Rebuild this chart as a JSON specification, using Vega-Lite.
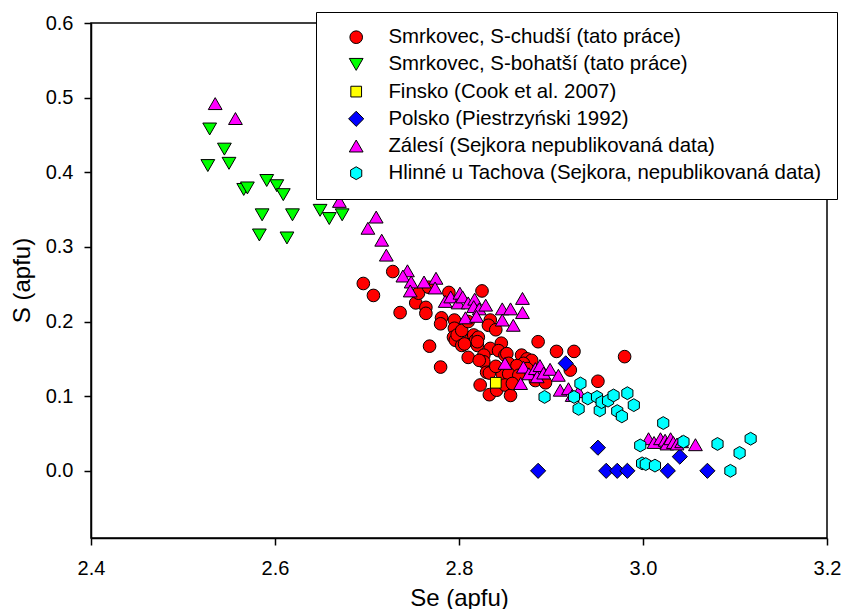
{
  "$schema": "https://vega.github.io/schema/vega-lite/v6.json",
  "width": 736,
  "height": 515,
  "autosize": {"type": "none"},
  "padding": {"left": 91, "top": 23, "right": 16, "bottom": 71},
  "background": "white",
  "config": {
    "font": "Liberation Sans",
    "view": {"stroke": "black", "strokeWidth": 1.5},
    "axis": {
      "grid": false,
      "domainColor": "black",
      "domainWidth": 1.5,
      "tickColor": "black",
      "tickWidth": 1.5,
      "tickSize": 7,
      "labelFont": "Liberation Sans",
      "labelFontSize": 20,
      "labelColor": "black",
      "titleFont": "Liberation Sans",
      "titleFontSize": 24,
      "titleFontWeight": "normal",
      "titleColor": "black"
    },
    "legend": {
      "labelFont": "Liberation Sans",
      "labelFontSize": 20.4,
      "labelColor": "black",
      "labelLimit": 0
    }
  },
  "data": {
    "values": [
      {"series": "Smrkovec, S-chudší (tato práce)", "se": 2.696, "s": 0.251},
      {"series": "Smrkovec, S-chudší (tato práce)", "se": 2.707, "s": 0.235},
      {"series": "Smrkovec, S-chudší (tato práce)", "se": 2.728, "s": 0.267},
      {"series": "Smrkovec, S-chudší (tato práce)", "se": 2.736, "s": 0.212},
      {"series": "Smrkovec, S-chudší (tato práce)", "se": 2.753, "s": 0.225},
      {"series": "Smrkovec, S-chudší (tato práce)", "se": 2.756, "s": 0.238},
      {"series": "Smrkovec, S-chudší (tato práce)", "se": 2.764, "s": 0.219},
      {"series": "Smrkovec, S-chudší (tato práce)", "se": 2.764, "s": 0.211},
      {"series": "Smrkovec, S-chudší (tato práce)", "se": 2.767, "s": 0.246},
      {"series": "Smrkovec, S-chudší (tato práce)", "se": 2.768, "s": 0.167},
      {"series": "Smrkovec, S-chudší (tato práce)", "se": 2.780, "s": 0.139},
      {"series": "Smrkovec, S-chudší (tato práce)", "se": 2.781, "s": 0.205},
      {"series": "Smrkovec, S-chudší (tato práce)", "se": 2.780, "s": 0.197},
      {"series": "Smrkovec, S-chudší (tato práce)", "se": 2.789, "s": 0.239},
      {"series": "Smrkovec, S-chudší (tato práce)", "se": 2.795, "s": 0.202},
      {"series": "Smrkovec, S-chudší (tato práce)", "se": 2.795, "s": 0.191},
      {"series": "Smrkovec, S-chudší (tato práce)", "se": 2.794, "s": 0.179},
      {"series": "Smrkovec, S-chudší (tato práce)", "se": 2.796, "s": 0.175},
      {"series": "Smrkovec, S-chudší (tato práce)", "se": 2.798, "s": 0.182},
      {"series": "Smrkovec, S-chudší (tato práce)", "se": 2.803, "s": 0.188},
      {"series": "Smrkovec, S-chudší (tato práce)", "se": 2.803, "s": 0.168},
      {"series": "Smrkovec, S-chudší (tato práce)", "se": 2.810, "s": 0.200},
      {"series": "Smrkovec, S-chudší (tato práce)", "se": 2.812, "s": 0.175},
      {"series": "Smrkovec, S-chudší (tato práce)", "se": 2.816, "s": 0.182},
      {"series": "Smrkovec, S-chudší (tato práce)", "se": 2.818, "s": 0.175},
      {"series": "Smrkovec, S-chudší (tato práce)", "se": 2.821, "s": 0.179},
      {"series": "Smrkovec, S-chudší (tato práce)", "se": 2.825, "s": 0.241},
      {"series": "Smrkovec, S-chudší (tato práce)", "se": 2.834, "s": 0.202},
      {"series": "Smrkovec, S-chudší (tato práce)", "se": 2.832, "s": 0.195},
      {"series": "Smrkovec, S-chudší (tato práce)", "se": 2.840, "s": 0.189},
      {"series": "Smrkovec, S-chudší (tato práce)", "se": 2.810, "s": 0.152},
      {"series": "Smrkovec, S-chudší (tato práce)", "se": 2.820, "s": 0.168},
      {"series": "Smrkovec, S-chudší (tato práce)", "se": 2.820, "s": 0.173},
      {"series": "Smrkovec, S-chudší (tato práce)", "se": 2.834, "s": 0.164},
      {"series": "Smrkovec, S-chudší (tato práce)", "se": 2.846, "s": 0.171},
      {"series": "Smrkovec, S-chudší (tato práce)", "se": 2.843, "s": 0.161},
      {"series": "Smrkovec, S-chudší (tato práce)", "se": 2.827, "s": 0.155},
      {"series": "Smrkovec, S-chudší (tato práce)", "se": 2.827, "s": 0.146},
      {"series": "Smrkovec, S-chudší (tato práce)", "se": 2.850, "s": 0.155},
      {"series": "Smrkovec, S-chudší (tato práce)", "se": 2.852, "s": 0.157},
      {"series": "Smrkovec, S-chudší (tato práce)", "se": 2.854, "s": 0.144},
      {"series": "Smrkovec, S-chudší (tato práce)", "se": 2.868, "s": 0.155},
      {"series": "Smrkovec, S-chudší (tato práce)", "se": 2.874, "s": 0.150},
      {"series": "Smrkovec, S-chudší (tato práce)", "se": 2.879, "s": 0.148},
      {"series": "Smrkovec, S-chudší (tato práce)", "se": 2.870, "s": 0.144},
      {"series": "Smrkovec, S-chudší (tato práce)", "se": 2.863, "s": 0.141},
      {"series": "Smrkovec, S-chudší (tato práce)", "se": 2.874, "s": 0.137},
      {"series": "Smrkovec, S-chudší (tato práce)", "se": 2.830, "s": 0.132},
      {"series": "Smrkovec, S-chudší (tato práce)", "se": 2.847, "s": 0.130},
      {"series": "Smrkovec, S-chudší (tato práce)", "se": 2.854, "s": 0.130},
      {"series": "Smrkovec, S-chudší (tato práce)", "se": 2.865, "s": 0.128},
      {"series": "Smrkovec, S-chudší (tato práce)", "se": 2.823, "s": 0.115},
      {"series": "Smrkovec, S-chudší (tato práce)", "se": 2.833, "s": 0.102},
      {"series": "Smrkovec, S-chudší (tato práce)", "se": 2.841, "s": 0.108},
      {"series": "Smrkovec, S-chudší (tato práce)", "se": 2.850, "s": 0.115},
      {"series": "Smrkovec, S-chudší (tato práce)", "se": 2.856, "s": 0.101},
      {"series": "Smrkovec, S-chudší (tato práce)", "se": 2.858, "s": 0.117},
      {"series": "Smrkovec, S-chudší (tato práce)", "se": 2.883, "s": 0.121},
      {"series": "Smrkovec, S-chudší (tato práce)", "se": 2.890, "s": 0.126},
      {"series": "Smrkovec, S-chudší (tato práce)", "se": 2.894, "s": 0.118},
      {"series": "Smrkovec, S-chudší (tato práce)", "se": 2.886, "s": 0.173},
      {"series": "Smrkovec, S-chudší (tato práce)", "se": 2.906, "s": 0.160},
      {"series": "Smrkovec, S-chudší (tato práce)", "se": 2.925, "s": 0.160},
      {"series": "Smrkovec, S-chudší (tato práce)", "se": 2.921, "s": 0.135},
      {"series": "Smrkovec, S-chudší (tato práce)", "se": 2.951, "s": 0.120},
      {"series": "Smrkovec, S-chudší (tato práce)", "se": 2.980, "s": 0.153},
      {"series": "Smrkovec, S-chudší (tato práce)", "se": 2.833, "s": 0.131},
      {"series": "Smrkovec, S-chudší (tato práce)", "se": 2.822, "s": 0.148},
      {"series": "Smrkovec, S-chudší (tato práce)", "se": 2.840, "s": 0.140},
      {"series": "Smrkovec, S-chudší (tato práce)", "se": 2.806, "s": 0.170},
      {"series": "Smrkovec, S-bohatší (tato práce)", "se": 2.529, "s": 0.458},
      {"series": "Smrkovec, S-bohatší (tato práce)", "se": 2.545, "s": 0.431},
      {"series": "Smrkovec, S-bohatší (tato práce)", "se": 2.527, "s": 0.409},
      {"series": "Smrkovec, S-bohatší (tato práce)", "se": 2.550, "s": 0.412},
      {"series": "Smrkovec, S-bohatší (tato práce)", "se": 2.566, "s": 0.377},
      {"series": "Smrkovec, S-bohatší (tato práce)", "se": 2.570, "s": 0.379},
      {"series": "Smrkovec, S-bohatší (tato práce)", "se": 2.591, "s": 0.389},
      {"series": "Smrkovec, S-bohatší (tato práce)", "se": 2.602, "s": 0.382},
      {"series": "Smrkovec, S-bohatší (tato práce)", "se": 2.609, "s": 0.370},
      {"series": "Smrkovec, S-bohatší (tato práce)", "se": 2.586, "s": 0.343},
      {"series": "Smrkovec, S-bohatší (tato práce)", "se": 2.619, "s": 0.343},
      {"series": "Smrkovec, S-bohatší (tato práce)", "se": 2.583, "s": 0.316},
      {"series": "Smrkovec, S-bohatší (tato práce)", "se": 2.613, "s": 0.312},
      {"series": "Smrkovec, S-bohatší (tato práce)", "se": 2.649, "s": 0.349},
      {"series": "Smrkovec, S-bohatší (tato práce)", "se": 2.659, "s": 0.338},
      {"series": "Smrkovec, S-bohatší (tato práce)", "se": 2.673, "s": 0.343},
      {"series": "Finsko (Cook et al. 2007)", "se": 2.840, "s": 0.118},
      {"series": "Polsko (Piestrzyński 1992)", "se": 2.916, "s": 0.144},
      {"series": "Polsko (Piestrzyński 1992)", "se": 2.951, "s": 0.031},
      {"series": "Polsko (Piestrzyński 1992)", "se": 2.886, "s": 0.000},
      {"series": "Polsko (Piestrzyński 1992)", "se": 2.960, "s": 0.000},
      {"series": "Polsko (Piestrzyński 1992)", "se": 2.972, "s": 0.000},
      {"series": "Polsko (Piestrzyński 1992)", "se": 2.983, "s": 0.000},
      {"series": "Polsko (Piestrzyński 1992)", "se": 3.027, "s": 0.000},
      {"series": "Polsko (Piestrzyński 1992)", "se": 3.040, "s": 0.019},
      {"series": "Polsko (Piestrzyński 1992)", "se": 3.070, "s": 0.000},
      {"series": "Zálesí (Sejkora nepublikovaná data)", "se": 2.535, "s": 0.492},
      {"series": "Zálesí (Sejkora nepublikovaná data)", "se": 2.557, "s": 0.472},
      {"series": "Zálesí (Sejkora nepublikovaná data)", "se": 2.670, "s": 0.361},
      {"series": "Zálesí (Sejkora nepublikovaná data)", "se": 2.710, "s": 0.340},
      {"series": "Zálesí (Sejkora nepublikovaná data)", "se": 2.701, "s": 0.325},
      {"series": "Zálesí (Sejkora nepublikovaná data)", "se": 2.716, "s": 0.309},
      {"series": "Zálesí (Sejkora nepublikovaná data)", "se": 2.721, "s": 0.289},
      {"series": "Zálesí (Sejkora nepublikovaná data)", "se": 2.744, "s": 0.268},
      {"series": "Zálesí (Sejkora nepublikovaná data)", "se": 2.739, "s": 0.261},
      {"series": "Zálesí (Sejkora nepublikovaná data)", "se": 2.748, "s": 0.253},
      {"series": "Zálesí (Sejkora nepublikovaná data)", "se": 2.762, "s": 0.253},
      {"series": "Zálesí (Sejkora nepublikovaná data)", "se": 2.775, "s": 0.258},
      {"series": "Zálesí (Sejkora nepublikovaná data)", "se": 2.774, "s": 0.245},
      {"series": "Zálesí (Sejkora nepublikovaná data)", "se": 2.747, "s": 0.241},
      {"series": "Zálesí (Sejkora nepublikovaná data)", "se": 2.785, "s": 0.227},
      {"series": "Zálesí (Sejkora nepublikovaná data)", "se": 2.791, "s": 0.233},
      {"series": "Zálesí (Sejkora nepublikovaná data)", "se": 2.799, "s": 0.225},
      {"series": "Zálesí (Sejkora nepublikovaná data)", "se": 2.801, "s": 0.238},
      {"series": "Zálesí (Sejkora nepublikovaná data)", "se": 2.804, "s": 0.233},
      {"series": "Zálesí (Sejkora nepublikovaná data)", "se": 2.810, "s": 0.225},
      {"series": "Zálesí (Sejkora nepublikovaná data)", "se": 2.817, "s": 0.230},
      {"series": "Zálesí (Sejkora nepublikovaná data)", "se": 2.816, "s": 0.220},
      {"series": "Zálesí (Sejkora nepublikovaná data)", "se": 2.822, "s": 0.217},
      {"series": "Zálesí (Sejkora nepublikovaná data)", "se": 2.829, "s": 0.222},
      {"series": "Zálesí (Sejkora nepublikovaná data)", "se": 2.807, "s": 0.205},
      {"series": "Zálesí (Sejkora nepublikovaná data)", "se": 2.819, "s": 0.207},
      {"series": "Zálesí (Sejkora nepublikovaná data)", "se": 2.847, "s": 0.217},
      {"series": "Zálesí (Sejkora nepublikovaná data)", "se": 2.856, "s": 0.217},
      {"series": "Zálesí (Sejkora nepublikovaná data)", "se": 2.869, "s": 0.231},
      {"series": "Zálesí (Sejkora nepublikovaná data)", "se": 2.869, "s": 0.212},
      {"series": "Zálesí (Sejkora nepublikovaná data)", "se": 2.847, "s": 0.202},
      {"series": "Zálesí (Sejkora nepublikovaná data)", "se": 2.859, "s": 0.195},
      {"series": "Zálesí (Sejkora nepublikovaná data)", "se": 2.850, "s": 0.144},
      {"series": "Zálesí (Sejkora nepublikovaná data)", "se": 2.867, "s": 0.117},
      {"series": "Zálesí (Sejkora nepublikovaná data)", "se": 2.870, "s": 0.139},
      {"series": "Zálesí (Sejkora nepublikovaná data)", "se": 2.876, "s": 0.130},
      {"series": "Zálesí (Sejkora nepublikovaná data)", "se": 2.883, "s": 0.137},
      {"series": "Zálesí (Sejkora nepublikovaná data)", "se": 2.885, "s": 0.126},
      {"series": "Zálesí (Sejkora nepublikovaná data)", "se": 2.888, "s": 0.141},
      {"series": "Zálesí (Sejkora nepublikovaná data)", "se": 2.892, "s": 0.131},
      {"series": "Zálesí (Sejkora nepublikovaná data)", "se": 2.899, "s": 0.136},
      {"series": "Zálesí (Sejkora nepublikovaná data)", "se": 2.908, "s": 0.128},
      {"series": "Zálesí (Sejkora nepublikovaná data)", "se": 2.910, "s": 0.108},
      {"series": "Zálesí (Sejkora nepublikovaná data)", "se": 2.919, "s": 0.110},
      {"series": "Zálesí (Sejkora nepublikovaná data)", "se": 2.923, "s": 0.101},
      {"series": "Zálesí (Sejkora nepublikovaná data)", "se": 2.930, "s": 0.106},
      {"series": "Zálesí (Sejkora nepublikovaná data)", "se": 3.006, "s": 0.043},
      {"series": "Zálesí (Sejkora nepublikovaná data)", "se": 3.012, "s": 0.038},
      {"series": "Zálesí (Sejkora nepublikovaná data)", "se": 3.019, "s": 0.043},
      {"series": "Zálesí (Sejkora nepublikovaná data)", "se": 3.024, "s": 0.041},
      {"series": "Zálesí (Sejkora nepublikovaná data)", "se": 3.026, "s": 0.036},
      {"series": "Zálesí (Sejkora nepublikovaná data)", "se": 3.030, "s": 0.043},
      {"series": "Zálesí (Sejkora nepublikovaná data)", "se": 3.033, "s": 0.038},
      {"series": "Zálesí (Sejkora nepublikovaná data)", "se": 3.037, "s": 0.036},
      {"series": "Zálesí (Sejkora nepublikovaná data)", "se": 3.042, "s": 0.039},
      {"series": "Zálesí (Sejkora nepublikovaná data)", "se": 3.057, "s": 0.035},
      {"series": "Hlinné u Tachova (Sejkora, nepublikovaná data)", "se": 2.893, "s": 0.099},
      {"series": "Hlinné u Tachova (Sejkora, nepublikovaná data)", "se": 2.932, "s": 0.117},
      {"series": "Hlinné u Tachova (Sejkora, nepublikovaná data)", "se": 2.925, "s": 0.099},
      {"series": "Hlinné u Tachova (Sejkora, nepublikovaná data)", "se": 2.930, "s": 0.083},
      {"series": "Hlinné u Tachova (Sejkora, nepublikovaná data)", "se": 2.940, "s": 0.097},
      {"series": "Hlinné u Tachova (Sejkora, nepublikovaná data)", "se": 2.950, "s": 0.099},
      {"series": "Hlinné u Tachova (Sejkora, nepublikovaná data)", "se": 2.953, "s": 0.081},
      {"series": "Hlinné u Tachova (Sejkora, nepublikovaná data)", "se": 2.955, "s": 0.092},
      {"series": "Hlinné u Tachova (Sejkora, nepublikovaná data)", "se": 2.962, "s": 0.094},
      {"series": "Hlinné u Tachova (Sejkora, nepublikovaná data)", "se": 2.968, "s": 0.101},
      {"series": "Hlinné u Tachova (Sejkora, nepublikovaná data)", "se": 2.972, "s": 0.080},
      {"series": "Hlinné u Tachova (Sejkora, nepublikovaná data)", "se": 2.977, "s": 0.073},
      {"series": "Hlinné u Tachova (Sejkora, nepublikovaná data)", "se": 2.983, "s": 0.104},
      {"series": "Hlinné u Tachova (Sejkora, nepublikovaná data)", "se": 2.990, "s": 0.088},
      {"series": "Hlinné u Tachova (Sejkora, nepublikovaná data)", "se": 3.022, "s": 0.064},
      {"series": "Hlinné u Tachova (Sejkora, nepublikovaná data)", "se": 2.997, "s": 0.034},
      {"series": "Hlinné u Tachova (Sejkora, nepublikovaná data)", "se": 2.999, "s": 0.010},
      {"series": "Hlinné u Tachova (Sejkora, nepublikovaná data)", "se": 3.003, "s": 0.009},
      {"series": "Hlinné u Tachova (Sejkora, nepublikovaná data)", "se": 3.013, "s": 0.007},
      {"series": "Hlinné u Tachova (Sejkora, nepublikovaná data)", "se": 3.044, "s": 0.039},
      {"series": "Hlinné u Tachova (Sejkora, nepublikovaná data)", "se": 3.081, "s": 0.036},
      {"series": "Hlinné u Tachova (Sejkora, nepublikovaná data)", "se": 3.105, "s": 0.024},
      {"series": "Hlinné u Tachova (Sejkora, nepublikovaná data)", "se": 3.117, "s": 0.043},
      {"series": "Hlinné u Tachova (Sejkora, nepublikovaná data)", "se": 3.095, "s": 0.000}
    ]
  },
  "mark": {"type": "point", "filled": true, "opacity": 1, "stroke": "black", "strokeWidth": 1},
  "encoding": {
    "x": {
      "field": "se", "type": "quantitative",
      "scale": {"domain": [2.4, 3.2], "nice": false, "zero": false},
      "axis": {"title": "Se (apfu)", "values": [2.4, 2.6, 2.8, 3.0, 3.2], "format": ".1f", "labelPadding": 13, "labelFlush": false, "labelOverlap": false, "labelBound": false, "titleX": 368, "titleY": 67, "titleBaseline": "alphabetic", "titleAnchor": "middle", "titleAlign": "center"}
    },
    "y": {
      "field": "s", "type": "quantitative",
      "scale": {"domain": [-0.09, 0.6], "nice": false, "zero": false},
      "axis": {"title": "S (apfu)", "values": [0, 0.1, 0.2, 0.3, 0.4, 0.5, 0.6], "format": ".1f", "labelPadding": 11, "labelFlush": false, "labelOverlap": false, "labelBound": false, "titleX": -69, "titleY": 257, "titleAngle": -90, "titleAlign": "center", "titleBaseline": "middle"}
    },
    "color": {
      "field": "series", "type": "nominal",
      "scale": {
        "domain": ["Smrkovec, S-chudší (tato práce)", "Smrkovec, S-bohatší (tato práce)", "Finsko (Cook et al. 2007)", "Polsko (Piestrzyński 1992)", "Zálesí (Sejkora nepublikovaná data)", "Hlinné u Tachova (Sejkora, nepublikovaná data)"],
        "range": ["#ff0000", "#00ff00", "#ffff00", "#0000ff", "#ff00ff", "#00ffff"]
      },
      "legend": {
        "title": null,
        "orient": "none",
        "legendX": 225,
        "legendY": -11,
        "strokeColor": "black",
        "fillColor": "white",
        "padding": 15,
        "symbolSize": 110,
        "symbolStrokeColor": "black",
        "symbolStrokeWidth": 1,
        "rowPadding": 6.2,
        "symbolOffset": 15,
        "labelOffset": 22,
        "encode": {"symbols": {"update": {"size": {"value": 115}}}}
      }
    },
    "shape": {
      "field": "series", "type": "nominal",
      "scale": {
        "domain": ["Smrkovec, S-chudší (tato práce)", "Smrkovec, S-bohatší (tato práce)", "Finsko (Cook et al. 2007)", "Polsko (Piestrzyński 1992)", "Zálesí (Sejkora nepublikovaná data)", "Hlinné u Tachova (Sejkora, nepublikovaná data)"],
        "range": ["circle", "triangle-down", "square", "M-1,0L0,-1L1,0L0,1Z", "triangle-up", "M0,-1L0.866,-0.5L0.866,0.5L0,1L-0.866,0.5L-0.866,-0.5Z"]
      }
    },
    "size": {
      "field": "series", "type": "nominal",
      "scale": {
        "type": "ordinal",
        "domain": ["Smrkovec, S-chudší (tato práce)", "Smrkovec, S-bohatší (tato práce)", "Finsko (Cook et al. 2007)", "Polsko (Piestrzyński 1992)", "Zálesí (Sejkora nepublikovaná data)", "Hlinné u Tachova (Sejkora, nepublikovaná data)"],
        "range": [160, 190, 115, 230, 190, 165]
      },
      "legend": null
    }
  }
}
